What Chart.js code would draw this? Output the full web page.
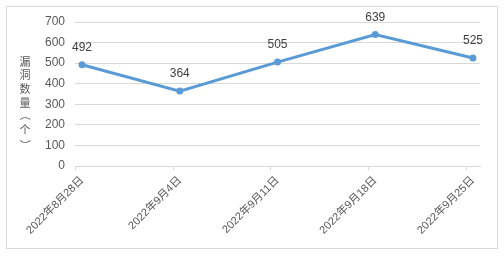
<!DOCTYPE html>
<html>
<head>
<meta charset="utf-8">
<script src="https://cdn.jsdelivr.net/npm/chart.js@4/dist/chart.umd.min.js"></script>
<style>
html,body{margin:0;padding:0;background:#fff;}
#wrap{width:504px;height:258px;position:relative;}
</style>
</head>
<body>
<div id="wrap"><canvas id="c" width="504" height="258"></canvas></div>
<script>
const categories = ["2022年8月28日","2022年9月4日","2022年9月11日","2022年9月18日","2022年9月25日"];
const values = [492, 364, 505, 639, 525];
const yTicks = [0,100,200,300,400,500,600,700];
const yTitle = "漏洞数量（个）";

const FONT = '"Liberation Sans","Noto Sans CJK SC",sans-serif';

const framePlugin = {
  id: 'frame',
  beforeDraw(chart) {
    const ctx = chart.ctx;
    ctx.save();
    ctx.fillStyle = '#fff';
    ctx.fillRect(0, 0, chart.width, chart.height);
    ctx.strokeStyle = '#d9d9d9';
    ctx.lineWidth = 1;
    ctx.strokeRect(6.5, 6.5, 491, 242);
    ctx.restore();
  },
  afterDraw(chart) {
    const ctx = chart.ctx;
    ctx.save();
    const xs = chart.scales.x;
    const yb = chart.chartArea.bottom;
    ctx.strokeStyle = '#d9d9d9';
    ctx.lineWidth = 1;
    categories.forEach((c, i) => {
      const px = Math.round(xs.getPixelForValue(i - 0.072)) + 0.5;
      ctx.beginPath();
      ctx.moveTo(px, yb);
      ctx.lineTo(px, yb + 4);
      ctx.stroke();
    });
    ctx.fillStyle = '#595959';
    ctx.font = '11px "Noto Sans CJK SC"';
    ctx.textAlign = 'center';
    ctx.textBaseline = 'middle';
    const chars = Array.from(yTitle);
    const yPos = [62, 75, 89, 103, 115, 130, 145];
    chars.forEach((ch, i) => {
      ctx.save();
      ctx.translate(25, yPos[i]);
      if (ch === '（' || ch === '）') ctx.rotate(Math.PI / 2);
      ctx.fillText(ch, 0, 0);
      ctx.restore();
    });
    const meta = chart.getDatasetMeta(0);
    ctx.fillStyle = '#404040';
    ctx.font = '12px ' + FONT;
    meta.data.forEach((pt, i) => {
      ctx.fillText(String(values[i]), pt.x, pt.y - 17);
    });
    ctx.restore();
  }
};

new Chart(document.getElementById('c'), {
  type: 'line',
  data: {
    datasets: [{
      data: values.map((v, i) => ({x: i, y: v})),
      borderColor: '#5b9bd5',
      backgroundColor: '#5b9bd5',
      borderWidth: 3,
      pointRadius: 3.5,
      pointHoverRadius: 3.5,
      pointBorderWidth: 0,
      tension: 0
    }]
  },
  options: {
    responsive: false,
    animation: false,
    events: [],
    layout: { padding: { left: 0, right: 24, top: 22, bottom: 0 } },
    plugins: { legend: { display: false }, tooltip: { enabled: false } },
    scales: {
      x: {
        type: 'linear',
        min: -0.072,
        max: 4.072,
        afterBuildTicks(axis) { axis.ticks = categories.map((c, i) => ({value: i})); },
        afterFit(axis) { axis.height = 92; },
        grid: { display: false, drawTicks: false },
        border: { display: true, color: '#d9d9d9', width: 1 },
        ticks: {
          autoSkip: false,
          minRotation: 45,
          maxRotation: 45,
          padding: 8,
          color: '#595959',
          font: { size: 11, family: FONT },
          callback: (v) => categories[v] ?? ''
        }
      },
      y: {
        min: 0,
        max: 700,
        afterBuildTicks(axis) { axis.ticks = yTicks.map(v => ({value: v})); },
        afterFit(axis) { axis.width = 75; },
        grid: { color: '#d9d9d9', drawTicks: false },
        border: { display: false },
        ticks: {
          padding: 10,
          color: '#595959',
          font: { size: 12, family: FONT }
        }
      }
    }
  },
  plugins: [framePlugin]
});
</script>
</body>
</html>
